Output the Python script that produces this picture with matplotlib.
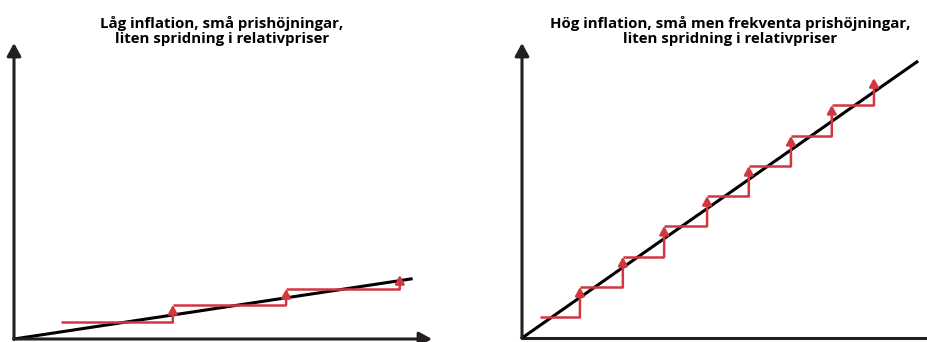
import matplotlib
matplotlib.use("Agg")
import matplotlib.pyplot as plt

# Panel titles
titles = [
    "Låg inflation, små prishöjningar,\nliten spridning i relativpriser",
    "Hög inflation, små men frekventa prishöjningar,\nliten spridning i relativpriser",
]

# Left panel: trend line end and price steps (axes in 0-100 units)
low_trend_x = [0, 95.0]
low_trend_y = [0, 20.3]
low_step_x = [11.2, 38.0, 65.1, 92.3]
low_levels = [5.7, 11.5, 16.9, 21.6]

# Right panel
high_trend_x = [0, 97.5]
high_trend_y = [0, 93.6]
high_step_x = [4.4, 14.3, 24.9, 35.1, 45.7, 56.0, 66.4, 76.5, 86.9]
high_levels = [7.1, 17.3, 27.5, 38.0, 48.1, 58.3, 68.5, 79.0, 88.1]

AXIS_C = "#231f20"
RED = "#d2363e"

fig = plt.figure(figsize=(9.27, 3.42), dpi=100)


def draw_panel(ax, trend_x, trend_y, step_x, levels, x_arrow=True):
    ax.set_xlim(0, 100)
    ax.set_ylim(0, 100)
    ax.axis("off")

    # axes with arrows
    ax.annotate("", xy=(0, 100), xytext=(0, 0),
                arrowprops=dict(arrowstyle="-|>,head_length=0.55,head_width=0.3",
                                color=AXIS_C, lw=2.2, shrinkA=0, shrinkB=0,
                                mutation_scale=14), annotation_clip=False)
    if x_arrow:
        ax.annotate("", xy=(100, 0), xytext=(0, 0),
                    arrowprops=dict(arrowstyle="-|>,head_length=0.55,head_width=0.3",
                                    color=AXIS_C, lw=2.2, shrinkA=0, shrinkB=0,
                                    mutation_scale=14), annotation_clip=False)
    else:
        ax.plot([0, 110], [0, 0], color=AXIS_C, lw=2.2, clip_on=False,
                solid_capstyle="butt")

    ax.plot(trend_x, trend_y, color="black", lw=2.2, clip_on=False, zorder=2)

    # horizontal pieces of the price path
    for i in range(len(step_x) - 1):
        ax.plot([step_x[i], step_x[i + 1]], [levels[i], levels[i]],
                color=RED, lw=1.8, clip_on=False, zorder=3,
                solid_capstyle="butt")
    # price jumps with arrow heads
    for i in range(1, len(step_x)):
        ax.annotate("", xy=(step_x[i], levels[i]), xytext=(step_x[i], levels[i - 1]),
                    arrowprops=dict(arrowstyle="-|>,head_length=0.55,head_width=0.3",
                                    color=RED, lw=1.8, shrinkA=0, shrinkB=0,
                                    mutation_scale=9),
                    annotation_clip=False, zorder=3)


W, H = 927.0, 342.0
ax1 = fig.add_axes([14 / W, (H - 339) / H, 418 / W, 296 / H])
draw_panel(ax1, low_trend_x, low_trend_y, low_step_x, low_levels)
ax2 = fig.add_axes([522 / W, (H - 338) / H, 405 / W, 295 / H])
draw_panel(ax2, high_trend_x, high_trend_y, high_step_x, high_levels, x_arrow=False)

fig.text(222 / W, 1 - 31 / H, titles[0], ha="center", va="center",
         fontsize=10.8, fontweight="bold", family="Open Sans", linespacing=1.1)
fig.text(730 / W, 1 - 31 / H, titles[1], ha="center", va="center",
         fontsize=10.8, fontweight="bold", family="Open Sans", linespacing=1.1)

fig.savefig("out.png", dpi=100)
